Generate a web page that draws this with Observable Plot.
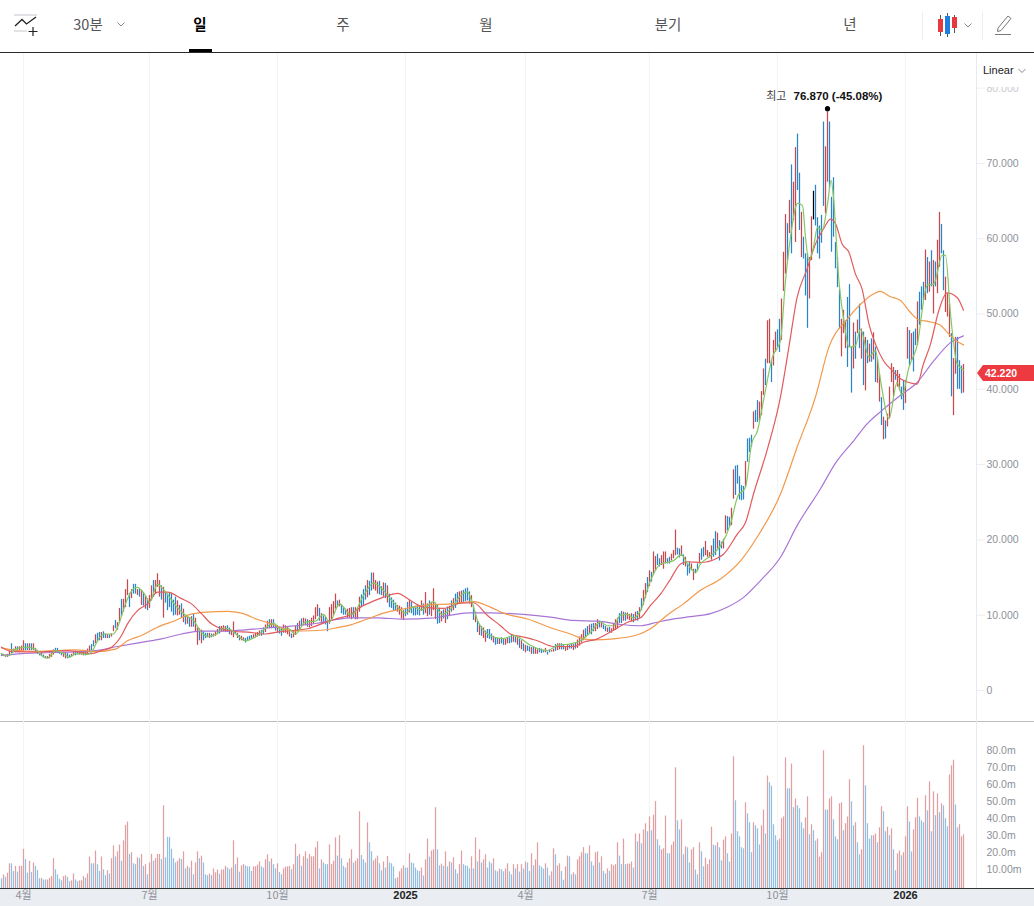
<!DOCTYPE html>
<html lang="ko">
<head>
<meta charset="utf-8">
<script src="https://cdn.jsdelivr.net/npm/d3@7"></script>
<script src="https://cdn.jsdelivr.net/npm/@observablehq/plot@0.6"></script>
<style>
  html,body{margin:0;padding:0;background:#fff;}
  #page{position:relative;width:1034px;height:906px;overflow:hidden;font-family:"Noto Sans CJK KR","Noto Sans",sans-serif;}
  #bar{position:absolute;left:0;top:0;width:1034px;height:52px;border-bottom:1px solid #2b2b2b;background:#fff;}
  #bar span{position:absolute;top:14px;font-size:14.5px;line-height:20px;color:#555;transform:translateX(-50%);white-space:nowrap;}
  #bar span.on{color:#000;font-weight:700;}
  #bar i{position:absolute;left:189px;top:49px;width:23px;height:3px;background:#000;}
  #bar svg{position:absolute;left:0;top:0;}
  #pricePlot{position:absolute;left:0;top:53px;}
  #band{position:absolute;left:0;top:888px;width:1034px;height:18px;background:#eaedf2;border-top:1px solid #333;box-sizing:border-box;}
  #rule{position:absolute;left:0;top:721px;width:1034px;height:1px;background:#bdbdbd;}
  #volumePlot{position:absolute;left:0;top:721px;}
  #scaleBox{position:absolute;left:977px;top:54px;width:57px;height:33px;background:#fff;font:11px/14px "Liberation Sans",sans-serif;color:#222;}
  #scaleBox b{position:absolute;left:6px;top:9px;font-weight:400;}
  #tag{position:absolute;left:977px;width:57px;height:16px;background:#ec3a40;color:#fff;font:700 10.5px/16px "Liberation Sans",sans-serif;text-indent:8px;clip-path:polygon(6px 0,100% 0,100% 100%,6px 100%,0 50%);}
  svg{background:transparent !important;}
</style>
</head>
<body>
<div id="page">
  <div id="band"></div>
  <div id="rule"></div>
  <div id="pricePlot"></div>
  <div id="volumePlot"></div>
  <div id="bar">
    <svg width="1034" height="52" fill="none">
      <path d="M14 15H37M14 31H27" stroke="#c4c6cc"/>
      <path d="M15 26L22 19.5L26.5 24L36 17" stroke="#222" stroke-width="1.3"/>
      <path d="M33 27V36M28.5 31.5H37.5" stroke="#222" stroke-width="1.2"/>
      <path d="M117.5 22.5L121 26L124.5 22.5" stroke="#888"/>
      <path d="M922.5 12V40M982.5 12V40" stroke="#eeeeee"/>
      <path d="M940.5 15V36M947.5 13V37M954.5 15V33" stroke="#555"/>
      <rect x="938" y="19" width="5" height="13" fill="#e63a3f"/>
      <rect x="945" y="16" width="5" height="18" fill="#1f7fe0"/>
      <rect x="952" y="17" width="5" height="11" fill="#e63a3f"/>
      <path d="M964.5 23.5L968 27L971.5 23.5" stroke="#888"/>
      <path d="M998 28L1008 16L1011 18.5L1001 30.5L997.5 31.5ZM995 34.5H1011" stroke="#777"/>
    </svg>
    <span style="left:88px">30분</span>
    <span class="on" style="left:200px">일</span>
    <span style="left:343px">주</span>
    <span style="left:486px">월</span>
    <span style="left:668px">분기</span>
    <span style="left:850px">년</span>
    <i></i>
  </div>
  <div id="scaleBox"><b>Linear</b><svg width="57" height="33" style="position:absolute;left:0;top:0" fill="none"><path d="M41.5 15L45 18.5L48.5 15" stroke="#888"/></svg></div>
  <div id="tag">42.220</div>
</div>
<script>
// ---- prices in thousands, one entry per trading day ----
const highs = [
4.9,4.8,4.7,4.8,5.2,6.2,5.5,5.8,5.8,5.8,
5.9,6.6,6.2,6.2,6.2,6.2,6.2,5.6,5.3,5.0,
4.9,4.7,4.5,4.5,4.8,5.0,5.4,5.6,5.6,5.3,
5.0,5.1,5.0,4.9,4.7,4.8,5.1,5.2,5.2,5.2,
5.2,5.2,5.2,5.5,5.9,6.1,6.6,7.4,7.6,7.7,
7.7,7.8,7.5,7.4,7.4,7.5,8.6,9.3,9.0,10.9,
12.1,12.1,13.4,14.7,12.9,13.4,14.1,14.1,13.4,13.4,
13.3,13.0,12.5,12.2,12.6,13.9,14.6,14.6,15.5,14.6,
13.9,13.7,13.0,12.8,13.0,12.9,12.0,12.4,11.9,11.3,
11.5,10.8,10.0,9.9,9.7,9.8,10.2,9.6,8.3,8.2,
8.0,7.8,7.6,7.6,7.6,7.5,7.5,7.8,8.1,8.5,
8.5,8.6,8.5,8.6,8.3,8.0,9.1,7.8,7.6,7.3,
7.2,7.0,6.9,7.1,7.2,7.3,7.4,7.6,7.7,7.9,
8.0,8.3,8.7,9.2,9.4,9.4,9.4,8.8,8.6,8.4,
8.3,8.7,8.6,8.4,7.8,7.5,7.9,8.5,8.9,9.2,
9.5,9.6,9.5,9.4,9.3,9.6,9.9,11.0,11.4,10.9,
10.2,9.9,9.7,9.1,11.0,11.4,11.8,12.8,11.9,12.0,
11.4,11.0,10.8,10.8,10.9,
11.0,11.0,11.0,10.9,12.4,12.7,13.4,13.9,14.6,14.5,
15.6,15.6,14.6,14.4,14.5,13.8,14.3,14.2,13.9,12.8,
12.3,12.0,11.6,11.3,11.2,11.0,10.6,10.9,11.7,12.0,
11.7,11.0,11.2,11.4,11.1,11.9,11.5,13.0,11.5,11.9,
11.7,13.5,11.6,11.4,10.9,10.5,10.7,10.8,11.1,11.2,
11.9,12.2,12.8,13.0,13.1,13.2,13.3,13.5,13.6,13.1,
12.6,11.2,10.4,9.2,8.8,8.5,8.3,7.9,8.1,8.1,
7.5,7.2,7.0,6.9,6.9,7.0,6.9,6.8,7.0,7.0,
7.4,7.2,7.1,7.0,6.8,6.6,6.2,6.0,5.9,5.8,
5.7,5.8,5.6,5.4,5.6,5.5,5.3,5.6,5.1,5.4,
5.3,5.5,6.1,6.2,6.2,6.2,6.1,5.8,6.0,6.0,
6.2,6.1,6.3,6.7,7.1,7.4,8.0,8.2,8.5,8.7,
8.8,8.9,8.9,9.4,9.2,9.0,8.7,8.5,8.3,8.4,
8.2,8.9,9.4,9.6,10.2,10.5,10.4,10.3,10.3,10.1,
10.2,10.1,10.4,10.5,11.0,12.2,13.3,14.2,15.0,15.9,15.7,
18.4,17.8,18.1,17.5,17.9,18.4,18.4,17.5,17.7,18.1,18.6,21.3,18.9,18.8,19.2,18.0,17.7,16.8,17.0,16.8,
16.1,16.1,16.8,18.2,18.8,19.0,19.8,18.6,18.3,19.2,20.1,21.1,20.9,19.9,19.7,20.1,23.2,23.1,23.0,24.2,
29.3,29.8,29.9,28.4,27.2,27.1,30.4,33.4,33.5,33.9,37.0,37.2,38.5,
38.3,39.7,42.7,44.0,49.1,49.3,43.8,46.5,47.6,47.9,49.3,52.0,58.2,63.2,62.0,65.1,69.8,67.5,72.1,73.9,
68.7,63.5,60.2,58.0,58.0,57.5,62.9,66.3,67.1,62.8,61.7,63.1,75.5,72.2,76.87,75.5,65.5,68.1,59.5,57.5,
53.2,49.3,50.5,49.1,52.2,53.9,45.6,48.8,47.6,49.2,51.3,48.0,47.6,46.9,46.5,46.0,46.7,47.5,45.6,44.0,
42.0,38.9,36.3,35.8,36.7,40.3,43.4,42.9,42.5,42.5,42.0,40.3,41.2,41.2,48.2,47.8,47.4,47.6,48.0,51.6,
52.9,53.6,54.2,58.5,57.5,56.9,58.4,57.1,56.9,59.8,63.5,61.9,58.4,54.9,52.7,51.3,47.4,44.1,46.9,46.9,
43.8,43.1,43.3];
const lows = [
4.5,4.5,4.4,4.4,4.7,4.9,5.0,5.0,5.0,5.0,
5.2,5.2,5.3,5.3,5.3,5.3,5.3,5.0,4.8,4.6,
4.5,4.3,4.2,4.2,4.2,4.4,4.7,4.9,4.9,4.8,
4.6,4.4,4.2,4.2,4.3,4.4,4.6,4.6,4.7,4.7,
4.7,4.6,4.6,4.8,5.0,5.3,5.8,6.2,6.4,6.6,
6.6,6.9,6.9,6.9,6.9,7.1,7.8,8.2,8.0,8.9,
9.8,10.4,11.0,12.6,11.0,12.2,12.8,12.8,12.6,12.4,
11.3,11.2,10.8,10.6,10.9,11.9,12.4,12.8,13.7,12.4,
12.0,9.6,11.6,10.6,11.0,10.4,9.9,10.0,9.9,10.0,
9.6,9.0,8.7,8.8,8.4,8.4,8.4,7.7,6.0,6.6,
6.2,6.6,6.9,7.0,6.9,7.0,7.1,7.2,7.4,7.5,
7.7,7.8,7.7,7.7,7.4,7.3,7.0,7.4,6.9,6.6,
6.6,6.5,6.3,6.6,6.7,6.8,6.9,7.0,7.1,7.2,
7.2,7.4,7.7,8.2,8.2,8.2,8.3,7.9,7.6,7.5,
7.2,7.6,7.6,7.4,7.1,6.9,7.0,7.3,7.8,8.0,
8.5,8.6,8.6,8.4,8.3,8.5,8.8,9.4,9.8,9.2,
8.8,8.9,8.7,7.8,8.8,9.2,10.0,10.8,11.0,11.1,
10.2,10.0,10.0,9.6,9.6,
9.4,9.6,9.4,9.4,10.4,11.0,11.3,12.0,12.3,12.6,
13.2,13.4,13.2,12.8,12.7,12.6,12.4,12.2,11.6,11.0,
10.9,10.6,10.5,10.4,10.0,9.5,9.3,9.8,10.0,10.3,
10.2,9.9,9.9,10.0,9.9,10.5,10.0,10.2,9.8,10.0,
9.8,10.6,9.4,8.8,8.9,9.1,9.5,8.9,9.4,9.8,
10.4,10.6,10.9,11.4,11.5,11.6,11.7,11.8,11.9,11.5,
11.0,9.3,9.0,7.7,7.3,7.2,6.9,6.4,6.9,6.8,
6.6,6.3,6.0,6.1,6.1,6.2,6.0,6.0,6.2,6.2,
6.3,6.4,6.3,6.0,5.6,5.4,5.2,5.0,5.2,5.1,
4.8,4.8,4.8,4.8,5.0,4.9,5.0,5.0,4.7,5.0,
5.1,5.1,5.2,5.3,5.4,5.4,5.4,5.2,5.3,5.5,
5.5,5.3,5.5,5.6,5.9,6.3,6.6,7.0,7.3,7.5,
7.4,7.8,7.8,8.1,8.3,8.3,8.1,7.8,7.7,7.6,
7.6,7.9,8.0,8.2,8.9,8.9,9.2,9.2,9.4,9.3,
9.1,9.0,9.3,9.2,9.6,10.6,11.3,12.2,13.0,13.8,14.4,
15.3,15.9,16.6,16.4,16.6,16.1,16.8,16.8,16.8,17.2,17.5,17.9,18.0,17.6,17.8,16.6,16.4,15.2,15.5,15.9,
14.6,15.5,15.8,16.8,17.3,17.7,17.9,17.7,17.6,17.3,17.7,17.9,18.8,17.2,18.8,18.8,20.8,21.2,21.7,21.9,
25.4,25.9,27.4,25.3,25.2,25.3,27.0,30.3,31.6,32.3,34.7,35.6,35.6,
35.8,36.5,39.2,40.5,43.4,43.4,40.9,43.1,44.9,45.6,44.9,46.5,53.0,55.3,57.1,60.7,58.0,62.4,59.5,66.4,
61.1,57.5,57.3,52.4,48.1,52.0,57.1,62.5,61.7,58.0,57.3,59.4,64.3,63.3,67.5,66.6,58.2,60.2,56.0,53.5,
48.0,44.3,47.4,45.4,42.9,45.6,39.5,42.7,44.0,47.4,45.4,44.0,40.5,39.8,43.4,43.6,43.6,43.9,40.9,40.8,
38.3,35.2,33.3,33.4,35.0,36.1,40.9,39.0,41.2,40.3,39.8,38.6,37.2,38.1,44.0,43.1,43.8,42.3,45.8,45.8,
48.5,50.5,51.8,51.8,52.7,52.9,53.6,50.0,53.6,52.7,56.2,58.0,53.1,50.2,49.6,46.9,39.0,36.5,42.0,40.0,
40.0,39.4,39.5];
// ---- volume in millions; negative means a falling (blue) day ----
const volumeSigned = [
-5.7,8,-6.6,9,14.5,-14.5,-10,13,-9.6,13,
13,23,-17,-9,16,-9.5,15,-13,-10.5,-5.7,
6,-5,-5,5,6,7,17.5,-11,-8,-5.5,
-4.5,7,7.5,-6.5,-4,4.5,8.5,-5,-4,4.5,
4.5,7,-6,8.5,18.5,-14.5,-14.5,22,-14,-10,
18.5,-11,-7.5,10.5,-8.5,17.5,25,-18.5,21.5,25.5,
-16,28,37,39,-20,21,-14.5,-14,18,-17.5,
20,-13,14,-8,15,20,-16,17.5,20,20,
-17,48.5,-18,-30,-30,-23,-17.5,-15,16,17.5,
-17,21.5,-11.5,13,-12,16,-8,15,21.5,-17.5,
19,-15,-8,-7.5,8.5,-7.5,11.5,9.2,10.8,-8.4,
10.8,11,13,-12,-11,12,28,-14,18,-9.6,
13.3,14,-13.3,-12.7,-12.7,-10,12.7,12.7,13.7,15.6,
-12.7,-12,16.8,19.8,-15.6,17.4,-14,-11.5,14.5,-9.4,
-8,11.5,12.5,12.7,13,-11,14,26,-18.8,20,
-13,18.6,21.5,-17.4,20,18.6,18.6,23.9,27.4,-11.5,
16.8,-15,-14,-14,25.6,14,16,29.7,-19,31,
-17.4,-13,-12,15,17.4,22.7,-14.9,16,17.4,45,
-19.4,-16.8,-15,38.5,-26.8,-21.5,16.2,17.4,19,-14.5,
-10.4,15.6,-12,18.8,-15,-14.5,-12.7,-5.7,6.3,9.8,
11.5,13.3,-12,-12,20.4,-15,-14.5,-12,-10.4,-10,
12,-7.4,16.8,29,-18.4,22,22.7,47.4,-22.7,-13.3,
14.3,-13,21.5,-12.7,15.6,-15,18,-11,-8.6,14,
22,-14,-13.3,-13,-11.5,18.6,-11.5,29.7,-15.6,22.7,
-15,16.8,19.8,-12,-15.6,-14.5,17.4,-10.4,-9.8,11.4,
-11,-9.8,11.4,14.5,-9.8,-8,14,-11.5,14,-9.6,
14,-11.4,15.6,-15,-10,20.4,-13.3,16.8,26.8,-13.3,
-12.5,-11.4,14.5,-12,-7.4,9.8,23.3,-19.8,13.3,14.5,
-10,-4.9,12.7,19,-18.6,-8,9.2,-8,16.8,18.6,
21,24,-20.4,-20.4,25,-15.6,-13.3,21,21.5,-15,
18.6,-10,-8.6,11.5,-10,14,13.3,14,26.8,-19,
-14,29,-14,14.3,14.3,15.6,-12,32,-27.4,32,
-26.2,34.4,38,-33.3,42,-33.9,43,51,-28.6,-25,
22.7,23.3,42.5,-20.4,-20.4,25.4,27.4,70.8,-39.7,-34.4,
40.3,-19.8,24.5,-23.9,-15,22.7,24,-10.8,-8,26.8,
-21.5,-12.7,17.8,14,16.8,36,-25.4,-25,26.8,-23.9,
-16.2,28.4,30.3,-20.4,-15.5,32,77.3,-51.5,-33.3,-30.3,
-23.9,-23.3,50.3,-43.8,-38.6,-21,38.6,-36.8,-35,-25.6,
36.8,46,-32,66,-62,-60,-37.4,-31,-28,29,
41,42,76.7,-58.5,-58.5,73,-47.4,52.6,-48.5,-46.8,
-38.6,-35,41.5,53.8,-31.5,37.4,-33.9,-27.8,29,18.4,
21,80.8,-46,-46,52.6,53.8,-40.3,-30.3,-28.6,49.7,
50.3,-33.9,38,42,63.8,-50.9,-36.8,38.6,-26.8,-19.8,
22.7,83.8,-60.3,-38,-29,-31,31,32,-26.8,35.6,
48,-45,-33.3,36,-31,35,-22.7,-10.4,20.4,22,
-19.2,21,30.3,48,-39,-21.5,34.4,41.5,53,-42,
-39.7,-38.6,54.4,-45.6,62.6,-33.3,56.7,-42.7,55.6,-44.4,
49.7,-48.5,-41,-36.2,66.7,72,75.3,-49,-35.6,37.4,
30.3,31.5];
// candle colours from the start of the last rally on differ slightly from the volume row
const lateCandleStart = 379;
const lateCandleDirs = "rrrbrrbrrbbrrrbrbrrbbrbbbrrkbbbbbrrbbbbbbrrrbbbrbrbrbrbrbrbrrbrbrrrrbrrbbrrbrbbrbbbrbrbrbrrbbrrrbrrbbbr";
const ma5 = [[0,4.9],[2,4.6],[4,4.65],[7,5.5],[12,5.75],[17,5.5],[20,4.65],[23,4.3],[27,5.3],[31,4.9],[34,4.4],[37,4.9],[43,4.8],[46,5.5],[48,6.6],[51,7.5],[56,7.5],[59,9.1],[62,11.5],[66,13.5],[68,13.7],[72,12.6],[74,11.7],[78,14.1],[82,13.1],[87,11.3],[92,10],[96,9.3],[100,7.7],[103,7.2],[107,7.4],[111,8.3],[115,8],[119,7.1],[122,6.6],[128,7.3],[133,8.5],[136,8.9],[140,8],[143,8.3],[147,7.5],[152,9.1],[157,9.2],[161,10.1],[164,9.1],[169,11.5],[174.5,10.1],[176,10.2],[181,12.6],[186,14.25],[191,13.3],[196,11.7],[202,10.3],[206,11.1],[210,10.7],[216,11.8],[220,10.1],[224.5,10.8],[229.5,12.6],[233,13.1],[235,11.95],[238,9.3],[241,8],[246,7.1],[251,6.9],[256,7.3],[259.5,6.9],[264.5,6],[273,5.3],[278,6],[284.5,6.2],[289.5,6.6],[294.5,7.7],[299.5,9.1],[303,8.6],[306,8.6],[309.5,10],[313,10.1],[316,9.65],[319.5,10.6],[324.5,14.6],[329.5,16.8],[336,17.25],[340,18],[343,16.8],[347,15.7],[349.5,16.8],[354.5,17.9],[359.5,19.2],[364.5,22.1],[368,25.7],[372,27],[375,32.7],[378,34.5],[381,38.5],[385.5,44.3],[389.5,46.5],[392,54.4],[394.5,60.2],[398,64.7],[400.5,64.4],[402,60.2],[403.7,57.1],[406,58.9],[408,61.5],[410.3,61.1],[413,64.6],[414.8,67.8],[416,65.5],[418.7,54.4],[421.2,49.1],[423.7,45.6],[427,45.8],[429.5,48],[433.7,44.3],[437,45.1],[439.5,41.2],[443.7,36.1],[447.8,40.9],[450.3,39.2],[453.7,42.9],[457.8,45.8],[462.8,53.8],[466.2,54],[470.3,57.8],[472,57.8],[474.5,50],[477.8,43.4],[481,42.6]];
const ma20 = [[0,5.75],[5,5.2],[17,5.1],[25,5.2],[33,5.3],[45,4.9],[50,5.3],[55,5.75],[60,7.3],[63,8.85],[68,10.6],[73,11.5],[78,13.06],[83,13.06],[90,12.2],[95,11.5],[100,10.2],[105,8.85],[110,8.2],[117,7.83],[123,7.75],[132,7.5],[138,7.75],[147,8],[153,8.2],[160,8.85],[167,9.5],[174.5,10.1],[179.5,11.07],[184.5,11.7],[191,12.4],[198,12.9],[204.5,11.95],[211,11.07],[221,10.9],[229.5,11.6],[236,11.65],[243,9.96],[249.5,8.6],[254.5,7.5],[261,7.1],[268,6.6],[276,5.84],[286,5.84],[291,6.4],[298,6.86],[306,8],[313,9.07],[319.5,9.65],[324.5,11.3],[329.5,12.8],[334.5,14.8],[339.5,16.8],[343,17.1],[349.5,17],[358,17.6],[361,18.1],[368,20.8],[372,22.3],[376,26.1],[383,32.1],[389.5,39],[393.7,45.6],[397.8,52.2],[402.8,56],[407,59.3],[411,61.3],[414.5,62.6],[417,62],[420.3,59.3],[423.7,58.2],[427,55.3],[430.3,53.3],[433.7,48.7],[437,46],[441,43.8],[445.3,42.5],[449.5,41.4],[453.7,40.9],[457.8,40.7],[461,43.4],[464.5,46],[468.7,50.5],[472.8,52.8],[477.8,52.2],[481,50.5]];
const ma60 = [[0,5.66],[8,5.3],[17,5.2],[27,5.3],[37,5.4],[47,5.17],[57,5.5],[63,6.6],[70,7.3],[78,8.4],[87,9.3],[93,10],[102,10.4],[113,10.5],[120,10.27],[128,9.43],[135,8.85],[143,8.06],[150,7.9],[160,8],[167,8.3],[174.5,8.72],[183,9.5],[191,10.27],[201,10.84],[211,11.3],[224.5,11.5],[236,11.8],[244.5,11.07],[251,10.27],[263,9.5],[276,8.2],[284.5,7.5],[291,6.86],[296,6.73],[306,6.86],[318,7.4],[324.5,8.2],[332.8,10],[341,11.5],[349.5,13.3],[359.5,14.8],[369.5,17.2],[377.8,20.35],[389.5,26.1],[397.8,32.3],[407,39],[413.7,45.6],[422.8,49.3],[429.5,51.3],[436.2,52.7],[439.2,53],[444.5,52.3],[449.5,51.8],[454.5,50.2],[458.7,49.2],[463.7,49],[469.5,48.5],[472.8,47.6],[477,46.5],[481,45.9]];
const ma120 = [[0,4.65],[10,4.9],[20,5],[33,5.1],[47,5.3],[58,5.84],[70,6.4],[80,6.86],[90,7.5],[100,7.88],[110,7.88],[122,8.06],[133,8.3],[143,8.5],[157,8.9],[167,9.4],[174.5,9.65],[188,9.65],[201,9.47],[214.5,9.6],[224.5,10],[234.5,10.3],[244.5,10.3],[261,10.1],[274.5,9.74],[286,9.3],[298,9.2],[309.5,8.76],[319.5,8.6],[327.8,9.06],[336,9.5],[344.5,9.8],[354.5,10.2],[362.8,11.05],[371.2,12.4],[379.5,14.6],[389.5,17.7],[397.8,21.9],[409.5,26.8],[417,30.2],[426.2,33.2],[432.8,35.4],[440.3,37.2],[449.5,39.2],[457.8,40.9],[466.2,43.8],[474.5,46.2],[481,47.1]];
// ---- axes ----
const monthTicks = [11,74,138,262,324,388];
const monthLabels = ["4월","7월","10월","4월","7월","10월"];
const yearTicks = [202,452];
const yearLabels = ["2025","2026"];
const priceTicks = [0,10,20,30,40,50,60,70];
const faintPriceTicks = [80];
const volumeTicks = [10,20,30,40,50,60,70,80];
const highValue = 76.87, highDay = 413, highChange = "(-45.08%)", lastPrice = 42.22;

const RED="#c8484e", BLUE="#2a84c8", BLACK="#000", VRED="#e0a0a2", VBLUE="#93c0e2";
const GRID="#f3f4f6", AXIS="#8e9199", FONT='"Liberation Sans","Noto Sans",sans-serif';
const days = d3.range(highs.length);
const dirOf = i => i >= lateCandleStart ? (lateCandleDirs[i-lateCandleStart] || "r") : (volumeSigned[i] >= 0 ? "r" : "b");
const xDomain = [-0.5,487.5];
const maLine = (a,c) => Plot.line(a,{x:d=>d[0],y:d=>d[1],stroke:c,strokeWidth:1.2,curve:"monotone-x"});
const candles = (dir,c) => Plot.ruleX(days.filter(i=>dirOf(i)===dir),{x:d=>d,y1:i=>lows[i],y2:i=>highs[i],stroke:c,strokeWidth:1.25});
const volumes = (test,c) => Plot.ruleX(days.filter(test),{x:d=>d,y1:0,y2:i=>Math.abs(volumeSigned[i]),stroke:c,strokeWidth:1.25});

const price = Plot.plot({
  width:1034,height:668,marginLeft:0,marginRight:58,marginTop:0,marginBottom:0,
  style:{fontFamily:FONT,fontSize:"10.5px",overflow:"visible"},
  x:{domain:xDomain,axis:null},
  y:{domain:[-4.12,84.6],axis:null},
  marks:[
    Plot.ruleX([...monthTicks,...yearTicks],{stroke:GRID}),
    Plot.ruleX([487.5],{stroke:"#e9eaed"}),
    Plot.axisY({anchor:"right",ticks:priceTicks,tickSize:8,tickPadding:2,stroke:"#eeeff2",color:AXIS,fontWeight:500,
      tickFormat:d=>d===0?"0":d.toFixed(3),label:null}),
    Plot.axisY({anchor:"right",ticks:faintPriceTicks,tickSize:8,tickPadding:2,stroke:"#eeeff2",color:"#c9cbd0",fontWeight:500,
      tickFormat:d=>d.toFixed(3),label:null}),
    candles("r",RED),
    candles("b",BLUE),
    candles("k",BLACK),
    maLine(ma120,"#a875d6"),
    maLine(ma60,"#f2994a"),
    maLine(ma20,"#e25b5d"),
    maLine(ma5,"#84c763"),
    Plot.dot([highDay],{x:d=>d,y:()=>highValue,r:2.6,fill:"#000",dy:-3}),
    Plot.text([highDay],{x:d=>d,y:()=>highValue,text:()=>"최고",textAnchor:"end",dx:-41,dy:-15,fill:"#444",fontSize:11,fontFamily:'"Noto Sans CJK KR",sans-serif'}),
    Plot.text([highDay],{x:d=>d,y:()=>highValue,text:()=>`${highValue.toFixed(3)} ${highChange}`,textAnchor:"start",dx:-34,dy:-15,fill:"#111",fontSize:11.5,fontWeight:700,fontFamily:FONT})
  ]
});
document.getElementById("pricePlot").append(price);

const volume = Plot.plot({
  width:1034,height:185,marginLeft:0,marginRight:58,marginTop:0,marginBottom:18,
  style:{fontFamily:FONT,fontSize:"10.5px",overflow:"visible"},
  x:{domain:xDomain,axis:null},
  y:{domain:[0,98],axis:null},
  marks:[
    Plot.ruleX([...monthTicks,...yearTicks],{stroke:GRID}),
    Plot.ruleX([487.5],{stroke:"#e9eaed"}),
    volumes(i=>volumeSigned[i]>=0,VRED),
    volumes(i=>volumeSigned[i]<0,VBLUE),
    Plot.axisY({anchor:"right",ticks:volumeTicks,tickSize:0,tickPadding:10,dy:-1.5,color:AXIS,fontWeight:500,
      tickFormat:d=>d===10?"10.00m":d.toFixed(1)+"m",label:null}),
    Plot.axisX({ticks:monthTicks,tickSize:0,tickPadding:3,color:"#8e9199",fontSize:11,fontFamily:'"Noto Sans CJK KR",sans-serif',
      tickFormat:d=>monthLabels[monthTicks.indexOf(d)],label:null}),
    Plot.axisX({ticks:yearTicks,tickSize:0,tickPadding:3,color:"#222",fontWeight:700,fontSize:11,
      tickFormat:d=>yearLabels[yearTicks.indexOf(d)],label:null})
  ]
});
document.getElementById("volumePlot").append(volume);

const tag = document.getElementById("tag");
tag.style.top = (53 + price.scale("y").apply(lastPrice) - 7) + "px";
</script>
</body>
</html>
